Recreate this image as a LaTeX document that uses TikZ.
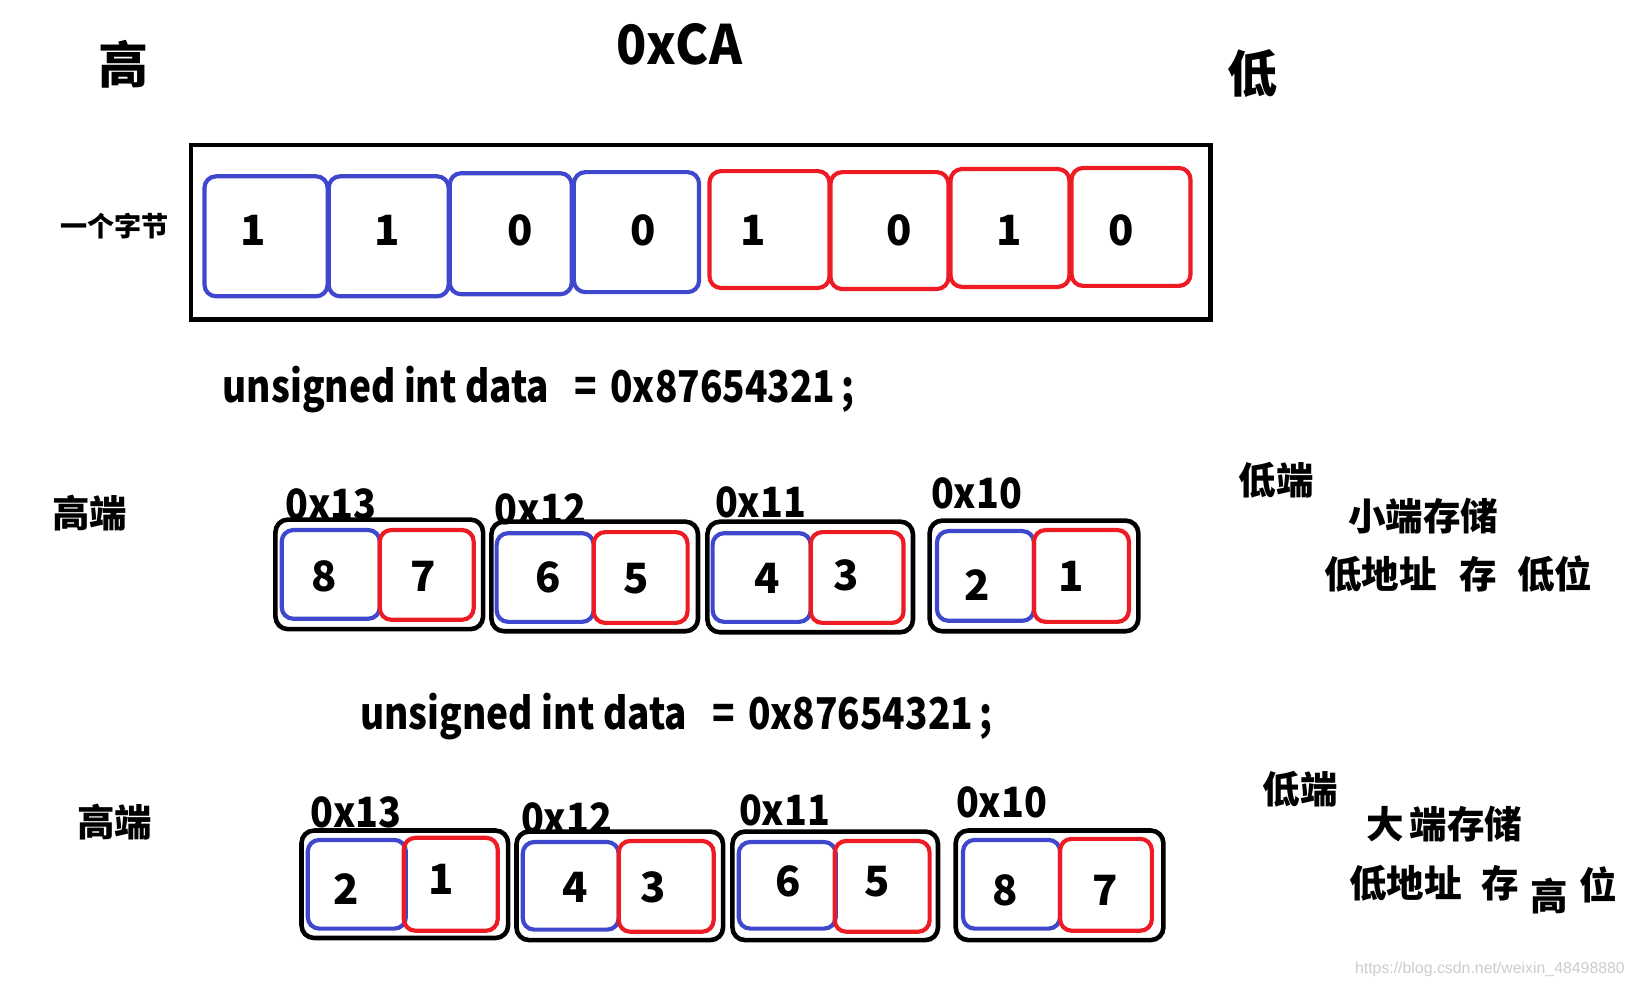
\documentclass[tikz,border=0pt]{standalone}
\usepackage{graphicx}
\usepackage{fontspec}
\setmainfont{Noto Sans CJK SC}
\newfontfamily\wmfont{Liberation Sans}
\usetikzlibrary{fit}
\definecolor{pblue}{RGB}{63,72,204}
\definecolor{pred}{RGB}{237,28,36}
\newcommand{\myfs}[1]{\fontsize{#1}{#1}\selectfont}
\newcommand{\hx}[1]{\scalebox{0.9}[1]{#1}}
\newcommand{\cx}[1]{\scalebox{0.845}[1]{#1}}
\begin{document}
\begin{tikzpicture}[x=0.5pt,y=-0.5pt,
  cellb/.style={draw=pblue, line width=2pt, rounded corners=5.5pt, inner sep=0pt, fit={#1}},
  cellr/.style={draw=pred, line width=2pt, rounded corners=5.5pt, inner sep=0pt, fit={#1}},
  outerbox/.style={draw=black, line width=2.2pt, rounded corners=6pt, inner sep=0pt, fit={#1}},
  bigbox/.style={draw=black, line width=2.2pt, inner sep=0pt, fit={#1}},
  huge/.style={inner sep=0pt, font=\bfseries\myfs{24}},
  title/.style={inner sep=0pt, font=\bfseries\myfs{26}},
  bitdig/.style={inner sep=0pt, font=\bfseries\myfs{20}},
  dig/.style={inner sep=0pt, font=\bfseries\myfs{20}},
  hexlab/.style={inner sep=0pt, font=\bfseries\myfs{20}},
  side/.style={inner sep=0pt, font=\bfseries\myfs{18}},
  small/.style={inner sep=0pt, font=\bfseries\myfs{13}},
  code/.style={inner sep=0pt, font=\bfseries\myfs{21}, anchor=base west},
  wm/.style={inner sep=0pt, font=\wmfont\myfs{7.6}, text=black!20}]
\useasboundingbox (0,0) rectangle (1568,947);

% ---- top: one byte ----
\node[huge] (hi) at (118,62) {高};
\node[title] (ca) at (651,42) {\scalebox{0.92}[1]{0xCA}};
\node[huge] (lo) at (1200,70) {低};
\node[small] (byte) at (110,217) {一个字节};
\node[bigbox={(183,139) (1160,306)}] (frame) {};
\node[cellb={(196,169) (314,284)}] (b1) {};
\node[cellb={(315,169) (430,284)}] (b2) {};
\node[cellb={(431,166) (548,282)}] (b3) {};
\node[cellb={(550,165) (670,280)}] (b4) {};
\node[cellr={(680,164) (795,276)}] (b5) {};
\node[cellr={(796,165) (909,277)}] (b6) {};
\node[cellr={(911,162) (1025,275)}] (b7) {};
\node[cellr={(1027,161) (1141,274)}] (b8) {};
\node[bitdig] (d1) at (243,221) {1};
\node[bitdig] (d2) at (371,221) {1};
\node[bitdig] (d3) at (499,221) {0};
\node[bitdig] (d4) at (616,221) {0};
\node[bitdig] (d5) at (722,221) {1};
\node[bitdig] (d6) at (862,221) {0};
\node[bitdig] (d7) at (967,221) {1};
\node[bitdig] (d8) at (1075,221) {0};

% ---- little endian ----
\node[code] (codeA) at (213,386) {\cx{unsigned int data\ \ \ =\hspace{0.35em}0x87654321\,;}};
\node[side] (hiA) at (86,492) {高端};
\node[hexlab] (lA13) at (317,483) {\hx{0x13}};
\node[hexlab] (lA12) at (518,488) {\hx{0x12}};
\node[hexlab] (lA11) at (729,481) {\hx{0x11}};
\node[hexlab] (lA10) at (936,473) {\hx{0x10}};
\node[outerbox={(264,498) (463,603)}] (oA1) {};
\node[outerbox={(471,500) (669,605)}] (oA2) {};
\node[outerbox={(678,500) (875,606)}] (oA3) {};
\node[outerbox={(891,499) (1091,605)}] (oA4) {};
\node[cellb={(270,508) (364,593)}] (cA1b) {};
\node[cellr={(364,508) (454,594)}] (cA1r) {};
\node[cellb={(476,511) (569,596)}] (cA2b) {};
\node[cellr={(569,510) (659,597)}] (cA2r) {};
\node[cellb={(683,511) (777,596)}] (cA3b) {};
\node[cellr={(777,510) (866,597)}] (cA3r) {};
\node[cellb={(898,509) (991,595)}] (cA4b) {};
\node[cellr={(991,508) (1082,596)}] (cA4r) {};
\node[dig] (nA8) at (311,552) {8};
\node[dig] (nA7) at (406,552) {7};
\node[dig] (nA6) at (525,553) {6};
\node[dig] (nA5) at (610,555) {5};
\node[dig] (nA4) at (735,554) {4};
\node[dig] (nA3) at (811,551) {3};
\node[dig] (nA2) at (937,561) {2};
\node[dig] (nA1) at (1027,552) {1};
\node[side] (loA) at (1223,460) {低端};
\node[side] (modeA) at (1364,495) {小端存储};
\node[side] (ruleA1) at (1323,550) {低地址};
\node[side] (ruleA2) at (1417,550) {存};
\node[side] (ruleA3) at (1490,550) {低位};

% ---- big endian ----
\node[code] (codeB) at (345,699) {\cx{unsigned int data\ \ \ =\hspace{0.35em}0x87654321\,;}};
\node[side] (hiB) at (110,788) {高端};
\node[hexlab] (lB13) at (341,779) {\hx{0x13}};
\node[hexlab] (lB12) at (543,784) {\hx{0x12}};
\node[hexlab] (lB11) at (752,777) {\hx{0x11}};
\node[hexlab] (lB10) at (960,769) {\hx{0x10}};
\node[outerbox={(289,796) (487,899)}] (oB1) {};
\node[outerbox={(495,797) (693,901)}] (oB2) {};
\node[outerbox={(702,797) (899,901)}] (oB3) {};
\node[outerbox={(916,796) (1115,901)}] (oB4) {};
\node[cellb={(295,805) (389,890)}] (cB1b) {};
\node[cellr={(387,803) (477,892)}] (cB1r) {};
\node[cellb={(501,807) (593,891)}] (cB2b) {};
\node[cellr={(593,806) (684,893)}] (cB2r) {};
\node[cellb={(708,807) (801,890)}] (cB3b) {};
\node[cellr={(800,806) (891,893)}] (cB3r) {};
\node[cellb={(923,805) (1016,890)}] (cB4b) {};
\node[cellr={(1016,804) (1104,892)}] (cB4r) {};
\node[dig] (nB2) at (332,852) {2};
\node[dig] (nB1) at (423,843) {1};
\node[dig] (nB4) at (551,850) {4};
\node[dig] (nB3) at (626,850) {3};
\node[dig] (nB6) at (755,845) {6};
\node[dig] (nB5) at (841,845) {5};
\node[dig] (nB8) at (963,853) {8};
\node[dig] (nB7) at (1059,853) {7};
\node[side] (loB) at (1246,756) {低端};
\node[side] (modeB1) at (1328,790) {大};
\node[side] (modeB2) at (1405,790) {端存储};
\node[side] (ruleB1) at (1347,847) {低地址};
\node[side] (ruleB2) at (1438,847) {存};
\node[side] (ruleB3) at (1485,859) {高};
\node[side] (ruleB4) at (1532,848) {位};

\node[wm] (mark) at (1428,929) {https://blog.csdn.net/weixin\_48498880};
\end{tikzpicture}
\end{document}
